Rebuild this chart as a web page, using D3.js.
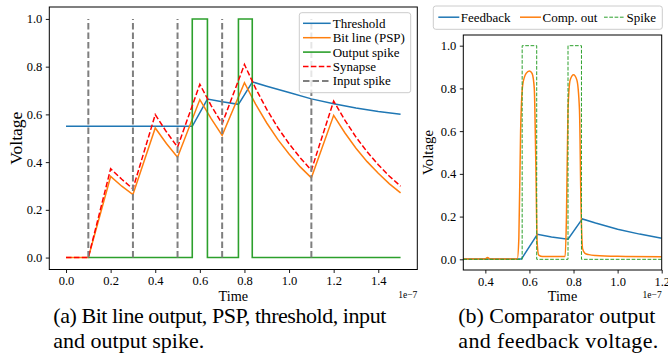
<!DOCTYPE html>
<html>
<head>
<meta charset="utf-8">
<script src="https://d3js.org/d3.v7.min.js"></script>
<style>
body { margin: 0; background: #fff; }
svg text { font-family: "Liberation Serif", "DejaVu Serif", serif; fill: #000; }
</style>
</head>
<body>
<svg width="668" height="362"></svg>
<script>
// ---- data (time in units of 1e-7 s) ----
var inputSpikes = [0.1, 0.3, 0.5, 0.7, 1.1];

var thresholdT = [0, 0.566, 0.634, 0.7, 0.773, 0.836, 0.9, 1.0, 1.1, 1.2, 1.3, 1.4, 1.5];
var thresholdV = [0.55, 0.55, 0.664, 0.653, 0.642, 0.736, 0.718, 0.692, 0.665, 0.645, 0.627, 0.612, 0.601];

var bitT = [0, 0.1, 0.2, 0.25, 0.3, 0.4, 0.45, 0.5, 0.6, 0.65, 0.7, 0.8, 0.85, 0.9, 0.95, 1.0, 1.05, 1.1, 1.2, 1.25, 1.3, 1.35, 1.4, 1.45, 1.5];
var bitV = [0, 0, 0.340, 0.299, 0.264, 0.543, 0.478, 0.420, 0.662, 0.583, 0.512, 0.733, 0.643, 0.564, 0.494, 0.434, 0.380, 0.334, 0.596, 0.523, 0.458, 0.402, 0.353, 0.309, 0.271];

var synV = [0, 0, 0.372, 0.328, 0.288, 0.599, 0.527, 0.463, 0.726, 0.638, 0.561, 0.809, 0.709, 0.621, 0.544, 0.477, 0.418, 0.366, 0.656, 0.576, 0.505, 0.443, 0.389, 0.341, 0.299];

var outT = [0.1, 0.566, 0.566, 0.634, 0.634, 0.773, 0.773, 0.835, 0.835, 1.5];
var outV = [0, 0, 1, 1, 0, 0, 1, 1, 0, 0];

var feedT = [0.3, 0.564, 0.636, 0.7, 0.775, 0.84, 0.9, 1.0, 1.1, 1.2];
var feedV = [0.002, 0.002, 0.117, 0.105, 0.094, 0.189, 0.170, 0.141, 0.118, 0.099];

var compT = [0.3, 0.4, 0.41, 0.42, 0.545, 0.552, 0.56, 0.57, 0.585, 0.6, 0.612, 0.622, 0.629, 0.635, 0.642, 0.66, 0.762, 0.768, 0.775, 0.785, 0.8, 0.815, 0.827, 0.834, 0.841, 0.852, 0.87, 0.9, 1.0, 1.2];
var compV = [0.002, 0.002, 0.009, 0.002, 0.002, 0.1, 0.6, 0.82, 0.87, 0.882, 0.87, 0.8, 0.45, 0.08, 0.02, 0.013, 0.013, 0.2, 0.7, 0.84, 0.864, 0.84, 0.7, 0.25, 0.05, 0.028, 0.022, 0.018, 0.014, 0.012];

var spikeT = [0.3, 0.567, 0.567, 0.633, 0.633, 0.775, 0.775, 0.836, 0.836, 1.2];
var spikeV = [0, 0, 1, 1, 0, 0, 1, 1, 0, 0];

var xTicksA = [0, 0.2, 0.4, 0.6, 0.8, 1.0, 1.2, 1.4];
var xTicksB = [0.4, 0.6, 0.8, 1.0, 1.2];
var yTicks = [0, 0.2, 0.4, 0.6, 0.8, 1.0];

var C = { blue: "#1f77b4", orange: "#ff7f0e", green: "#2ca02c", red: "#ff0000", gray: "#7f7f7f" };
var FONT = '"Liberation Serif", "DejaVu Serif", serif';

var svg = d3.select("svg").attr("font-family", FONT);

function zip(t, v) { return t.map(function(d, i) { return [d, v[i]]; }); }

function panel(box, xDom, xTicks, ylabelSize) {
  var x = d3.scaleLinear().domain(xDom).range([box.l, box.r]);
  var y = d3.scaleLinear().domain([-0.05, 1.05]).range([box.b, box.t]);
  var g = svg.append("g");
  var clipId = "clip" + Math.round(box.l);
  g.append("clipPath").attr("id", clipId).append("rect")
    .attr("x", box.l).attr("y", box.t).attr("width", box.r - box.l).attr("height", box.b - box.t);
  var plot = g.append("g").attr("clip-path", "url(#" + clipId + ")");

  var ax = g.append("g").attr("transform", "translate(0," + box.b + ")")
    .call(d3.axisBottom(x).tickValues(xTicks).tickFormat(d3.format(".1f")).tickSize(3.5).tickPadding(3.5));
  var ay = g.append("g").attr("transform", "translate(" + box.l + ",0)")
    .call(d3.axisLeft(y).tickValues(yTicks).tickFormat(d3.format(".1f")).tickSize(3.5).tickPadding(3.5));
  [ax, ay].forEach(function(a) {
    a.attr("font-family", FONT);
    a.select(".domain").remove();
    a.selectAll("text").style("font-size", "12.5px").style("font-family", FONT);
    a.selectAll("line").attr("stroke", "#000").attr("stroke-width", 0.9);
  });
  g.append("rect").attr("x", box.l).attr("y", box.t).attr("width", box.r - box.l).attr("height", box.b - box.t)
    .attr("fill", "none").attr("stroke", "#000").attr("stroke-width", 1);

  g.append("text").attr("x", (box.l + box.r) / 2).attr("y", 300.5).attr("text-anchor", "middle")
    .style("font-size", "14.2px").text("Time");
  g.append("text").attr("transform", "translate(" + box.yl + "," + (box.t + box.b) / 2 + ") rotate(-90)")
    .attr("text-anchor", "middle").style("font-size", ylabelSize + "px").text("Voltage");
  g.append("text").attr("x", box.r).attr("y", 298).attr("text-anchor", "end")
    .style("font-size", "9.5px").text("1e\u22127");

  var line = d3.line().x(function(d) { return x(d[0]); }).y(function(d) { return y(d[1]); });
  return { x: x, y: y, plot: plot, line: line, g: g };
}

// ---- (a) ----
var A = panel({ l: 49.3, r: 417.3, t: 7, b: 269.5, yl: 21.5 }, [-0.075, 1.575], xTicksA, 17.5);

A.plot.append("path").datum(zip(thresholdT, thresholdV)).attr("d", A.line)
  .attr("fill", "none").attr("stroke", C.blue).attr("stroke-width", 1.5);
A.plot.append("path").datum(zip(bitT, bitV)).attr("d", A.line)
  .attr("fill", "none").attr("stroke", C.orange).attr("stroke-width", 1.5);
A.plot.append("path").datum(zip(outT, outV)).attr("d", A.line)
  .attr("fill", "none").attr("stroke", C.green).attr("stroke-width", 1.6);
A.plot.append("path").datum(zip(bitT, synV)).attr("d", A.line)
  .attr("fill", "none").attr("stroke", C.red).attr("stroke-width", 1.5).attr("stroke-dasharray", "5.5,2.4");
A.plot.selectAll(".inspk").data(inputSpikes).enter().append("line")
  .attr("x1", function(d) { return A.x(d); }).attr("x2", function(d) { return A.x(d); })
  .attr("y1", A.y(0)).attr("y2", A.y(1))
  .attr("stroke", C.gray).attr("stroke-width", 2).attr("stroke-dasharray", "6.5,3");

var legA = [
  { name: "Threshold", color: C.blue, dash: null, w: 1.5 },
  { name: "Bit line (PSP)", color: C.orange, dash: null, w: 1.5 },
  { name: "Output spike", color: C.green, dash: null, w: 1.6 },
  { name: "Synapse", color: C.red, dash: "5.5,2.4", w: 1.5 },
  { name: "Input spike", color: C.gray, dash: "6.5,3", w: 2 }
];
A.g.append("rect").attr("x", 299.3).attr("y", 12.7).attr("width", 111.4).attr("height", 80)
  .attr("rx", 2.5).attr("fill", "#fff").attr("fill-opacity", 0.8).attr("stroke", "#cccccc").attr("stroke-width", 1);
legA.forEach(function(d, i) {
  var yy = 23.3 + i * 14.4;
  A.g.append("line").attr("x1", 303).attr("x2", 330.7).attr("y1", yy).attr("y2", yy)
    .attr("stroke", d.color).attr("stroke-width", d.w).attr("stroke-dasharray", d.dash);
  A.g.append("text").attr("x", 332.7).attr("y", yy).attr("dy", "0.35em").style("font-size", "13px").text(d.name);
});

// ---- (b) ----
var B = panel({ l: 463.3, r: 661.7, t: 35, b: 270, yl: 433 }, [0.3, 1.2], xTicksB, 14.8);

B.plot.append("path").datum(zip(feedT, feedV)).attr("d", B.line)
  .attr("fill", "none").attr("stroke", C.blue).attr("stroke-width", 1.5);
B.plot.append("path").datum(zip(compT, compV)).attr("d", B.line.curve(d3.curveMonotoneX))
  .attr("fill", "none").attr("stroke", C.orange).attr("stroke-width", 1.5);
B.line.curve(d3.curveLinear);
B.plot.append("path").datum(zip(spikeT, spikeV)).attr("d", B.line)
  .attr("fill", "none").attr("stroke", C.green).attr("stroke-width", 1).attr("stroke-dasharray", "3.7,1.6");

var legB = [
  { name: "Feedback", color: C.blue, dash: null, w: 1.5, x: 438.3 },
  { name: "Comp. out", color: C.orange, dash: null, w: 1.5, x: 520 },
  { name: "Spike", color: C.green, dash: "3.7,1.6", w: 1, x: 604 }
];
B.g.append("rect").attr("x", 433.3).attr("y", 6).attr("width", 229).attr("height", 23.3)
  .attr("rx", 2.5).attr("fill", "#fff").attr("fill-opacity", 0.8).attr("stroke", "#cccccc").attr("stroke-width", 1);
legB.forEach(function(d) {
  var yy = 17.2;
  B.g.append("line").attr("x1", d.x).attr("x2", d.x + 21).attr("y1", yy).attr("y2", yy)
    .attr("stroke", d.color).attr("stroke-width", d.w).attr("stroke-dasharray", d.dash);
  B.g.append("text").attr("x", d.x + 22.5).attr("y", yy).attr("dy", "0.35em").style("font-size", "13px").text(d.name);
});

// ---- captions (line widths follow the justified layout of the original) ----
var caps = [
  { x: 53.3, lines: ["(a) Bit line output, PSP, threshold, input", "and output spike."], widths: [333, null] },
  { x: 458.3, lines: ["(b) Comparator output", "and feedback voltage."], widths: [197, 200] }
];
caps.forEach(function(c) {
  c.lines.forEach(function(s, i) {
    var t = svg.append("text").attr("x", c.x).attr("y", 323.3 + i * 25).style("font-size", "22px").text(s);
    if (c.widths[i]) t.attr("textLength", c.widths[i]).attr("lengthAdjust", "spacing");
  });
});
</script>
</body>
</html>
